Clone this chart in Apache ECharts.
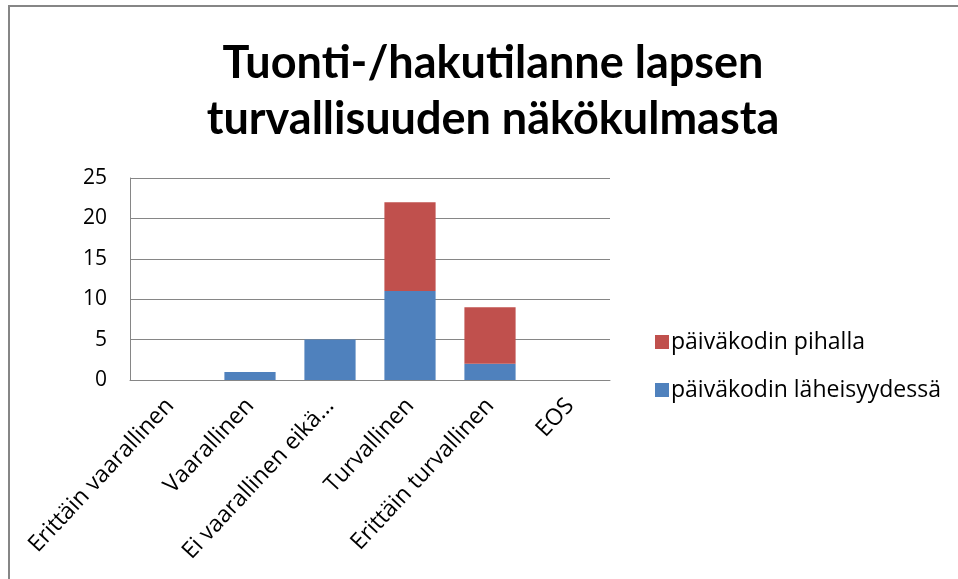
<!DOCTYPE html>
<html>
<head>
<meta charset="utf-8">
<script src="https://cdn.jsdelivr.net/npm/echarts@6/dist/echarts.min.js"></script>
<style>
  html, body { margin: 0; padding: 0; background: #fff; }
  #root { width: 958px; height: 579px; }
</style>
</head>
<body>
<div id="root"></div>
<script>
var categories = ['Erittäin vaarallinen', 'Vaarallinen', 'Ei vaarallinen eikä...', 'Turvallinen', 'Erittäin turvallinen', 'EOS']
var seriesNames = ['päiväkodin läheisyydessä', 'päiväkodin pihalla']
var lahella = [0, 1, 5, 11, 2, 0]
var pihalla = [0, 0, 0, 11, 7, 0]
var yTicks = [0, 5, 10, 15, 20, 25]

var chart = echarts.init(document.getElementById('root'))

var titleFont = 'Lato, "Open Sans", sans-serif'
var font = '"Open Sans", Lato, sans-serif'

var option = {
  animation: false,
  backgroundColor: '#fff',
  title: {
    text: 'Tuonti-/hakutilanne lapsen\nturvallisuuden näkökulmasta',
    left: 488,
    top: 30,
    textAlign: 'center',
    textStyle: {
      fontFamily: titleFont,
      fontWeight: 'bold',
      fontSize: 45,
      lineHeight: 56,
      color: '#000'
    }
  },
  graphic: [{
    type: 'rect',
    shape: { x: 9, y: 6, width: 980, height: 600 },
    style: { fill: 'none', stroke: '#868686', lineWidth: 2 },
    silent: true
  }],
  legend: {
    orient: 'vertical',
    left: 650,
    top: 325,
    itemWidth: 14,
    itemHeight: 14,
    itemGap: 24,
    icon: 'rect',
    data: [seriesNames[1], seriesNames[0]],
    textStyle: { fontFamily: font, fontSize: 23, lineHeight: 24, color: '#000', padding: [0, 0, 0, -3] }
  },
  grid: {
    left: 130,
    right: 348,
    top: 178,
    bottom: 199,
    containLabel: false
  },
  xAxis: {
    type: 'category',
    data: categories,
    axisLine: { lineStyle: { color: '#868686', width: 1 } },
    axisTick: { show: false },
    axisLabel: {
      rotate: 47,
      interval: 0,
      margin: 22,
      fontFamily: font,
      fontSize: 23,
      color: '#000'
    }
  },
  yAxis: {
    type: 'value',
    min: yTicks[0],
    max: yTicks[yTicks.length - 1],
    interval: 5,
    axisLine: { show: true, lineStyle: { color: '#868686', width: 1 } },
    axisTick: { show: false },
    splitLine: { lineStyle: { color: '#868686', width: 1 } },
    axisLabel: {
      margin: 23,
      fontFamily: font,
      fontSize: 21,
      color: '#000'
    }
  },
  series: [{
    name: seriesNames[0],
    type: 'bar',
    stack: 'total',
    barWidth: '64%',
    data: lahella,
    itemStyle: { color: '#4F81BD' }
  }, {
    name: seriesNames[1],
    type: 'bar',
    stack: 'total',
    barWidth: '64%',
    data: pihalla,
    itemStyle: { color: '#C0504D' }
  }]
}

chart.setOption(option)
</script>
</body>
</html>
